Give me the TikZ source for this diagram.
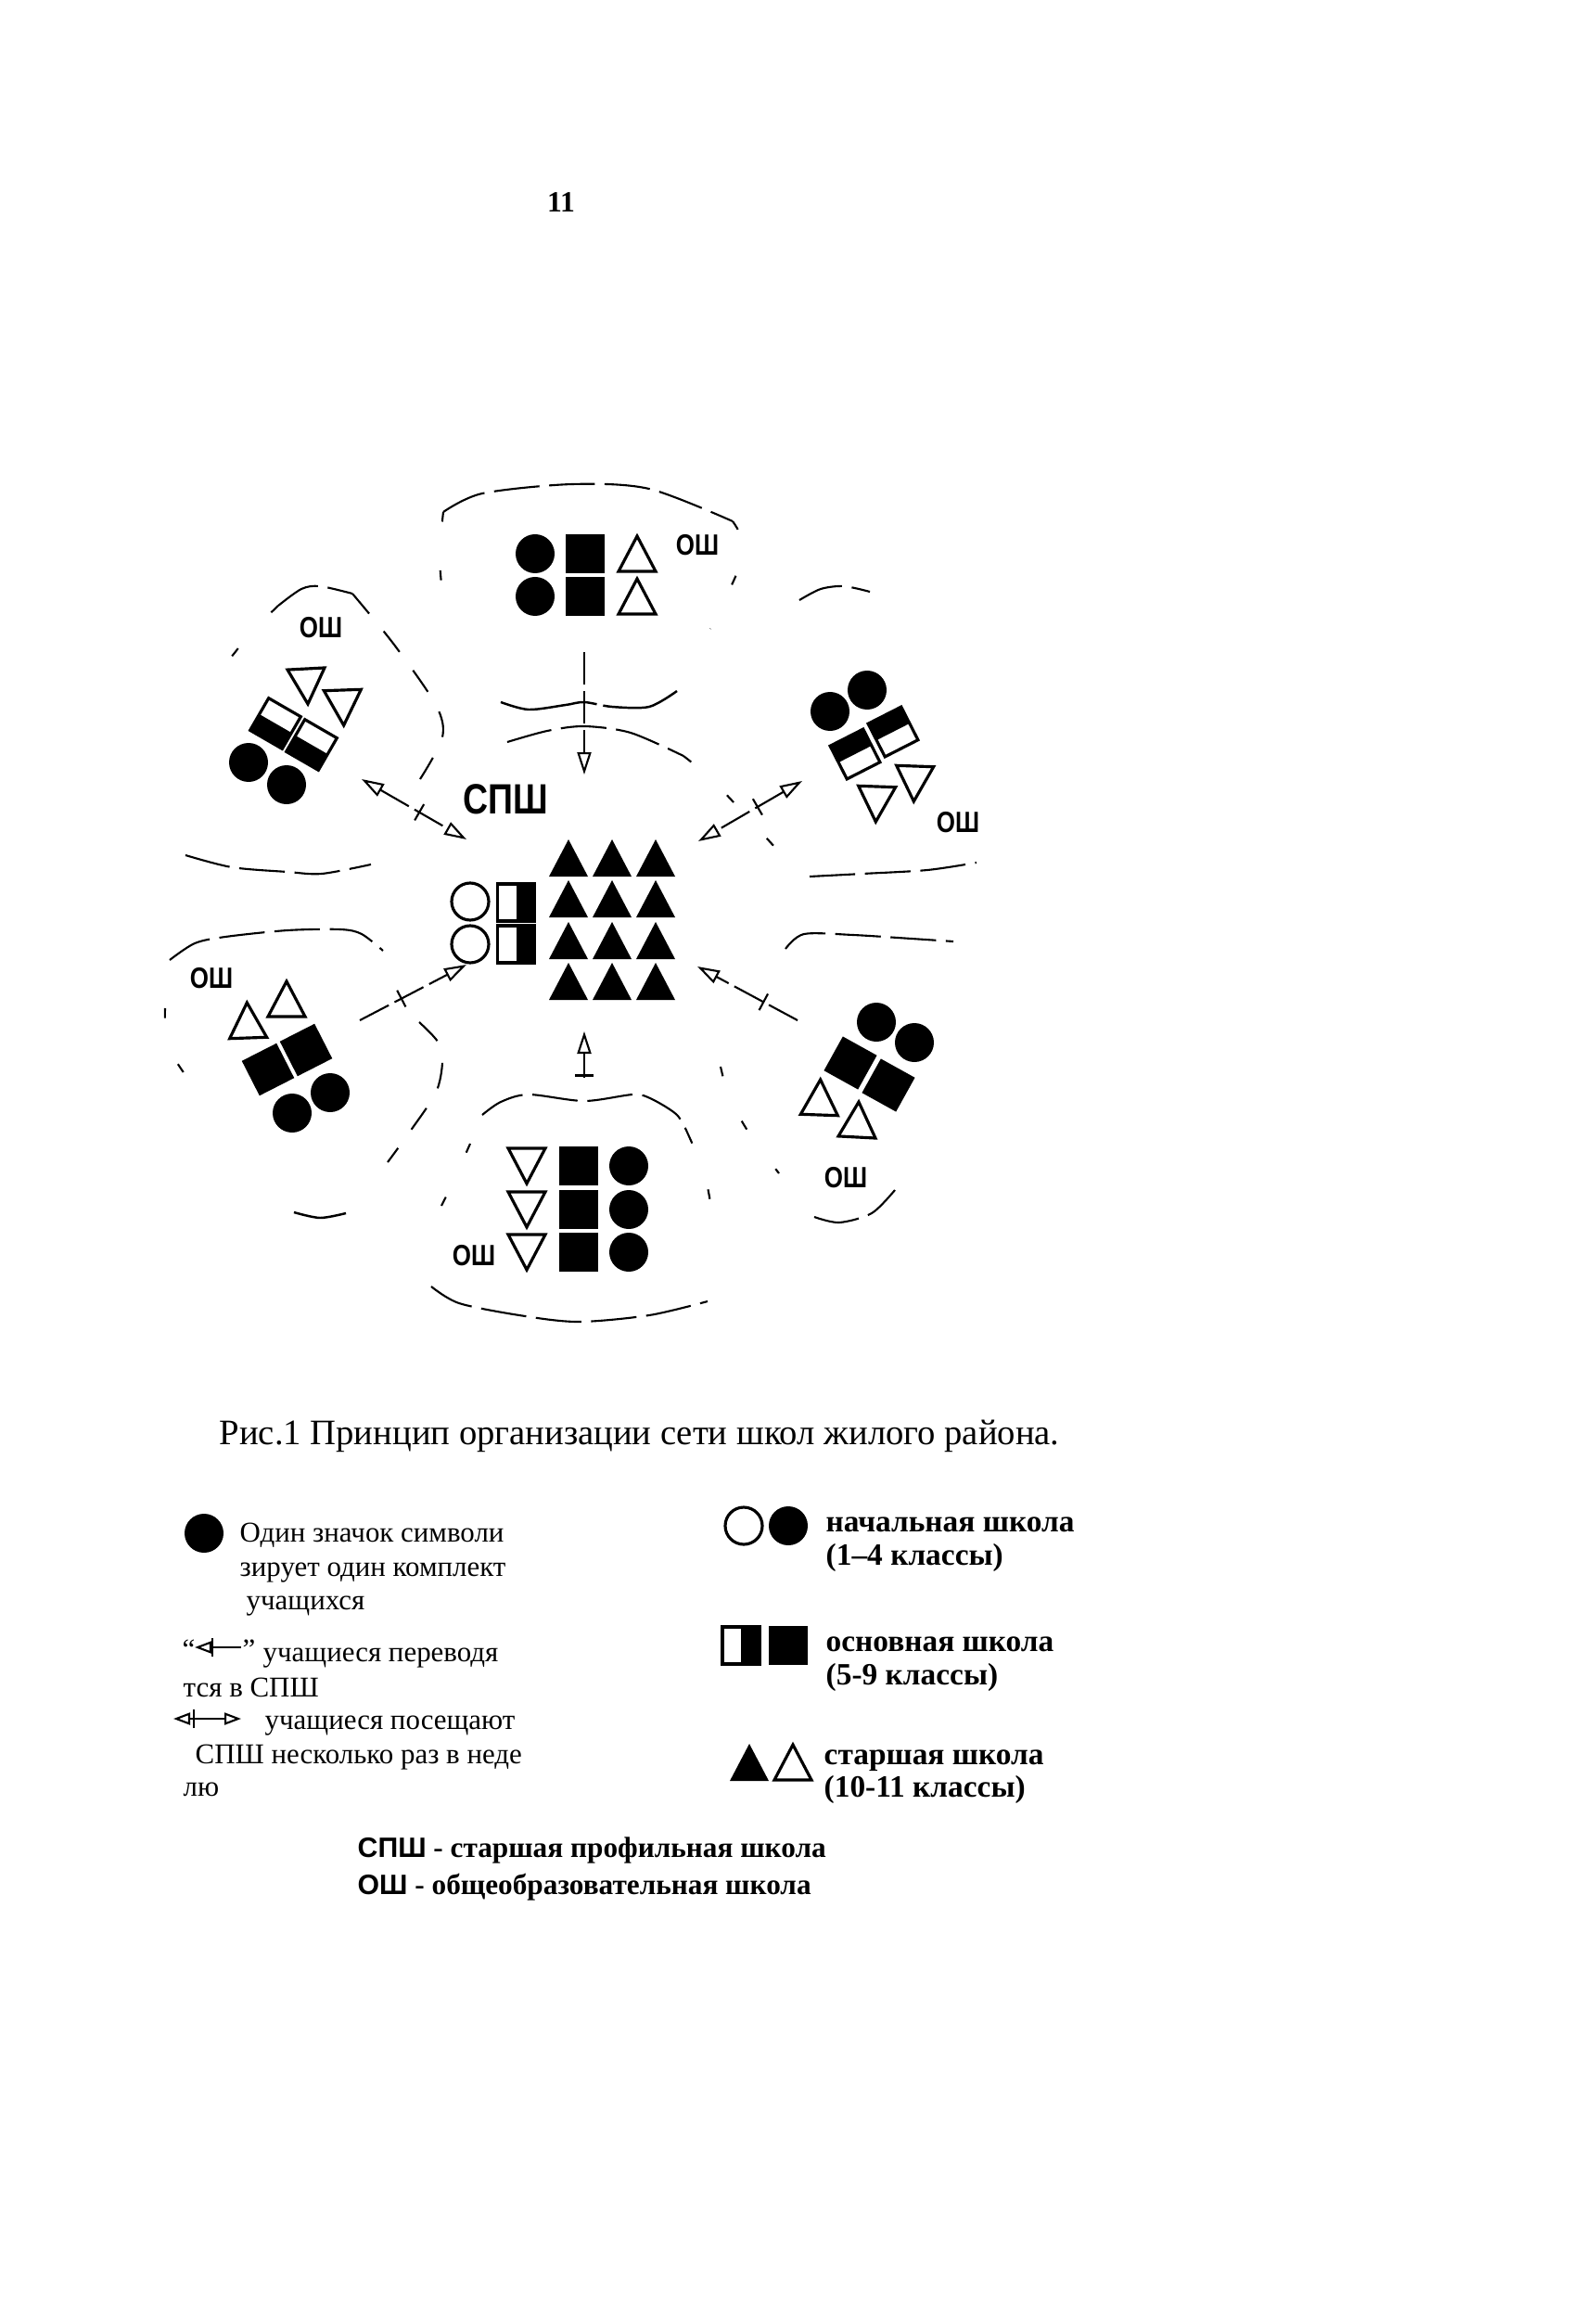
\documentclass[tikz,border=0pt]{standalone}
\usepackage{fontspec}
\setmainfont{Liberation Serif}
\setsansfont{Liberation Sans}
\newfontfamily\labfont{Liberation Sans}[FakeStretch=0.82]
\usetikzlibrary{arrows.meta,decorations.markings}

% school symbols
\tikzset{
  dotfull/.pic={\fill (0,0) circle (0.21);},
  dotopen/.pic={\draw[line width=0.9pt] (0,0) circle (0.2);},
  sqfull/.pic={\fill (-0.21,-0.21) rectangle (0.21,0.21);},
  sqhalf/.pic={\draw[line width=0.9pt] (-0.2,-0.2) rectangle (0.2,0.2);
               \fill (0,-0.2) rectangle (0.2,0.2);},
  trifull/.pic={\fill (-0.21,-0.2) -- (0.21,-0.2) -- (0,0.2) -- cycle;},
  triopen/.pic={\draw[line width=0.9pt,line join=miter]
               (-0.2,-0.19) -- (0.2,-0.19) -- (0,0.19) -- cycle;}
}

\begin{document}
\begin{tikzpicture}[
   bnd/.style={line width=0.6pt,dash pattern=on 14pt off 3pt},
   loose/.style={line width=0.6pt,dash pattern=on 8pt off 7pt},
   gap/.style={line width=0.6pt,dash pattern=on 3pt off 15pt},
   wave/.style={line width=0.7pt,dash pattern=on 30pt off 2pt},
   lnk/.style={line width=0.6pt,dash pattern=on 10pt off 2pt},
   oneway/.style={lnk,-{Triangle[open,length=2.4mm,width=1.5mm]}},
   twoway/.style={lnk,{Triangle[open,length=2.4mm,width=1.5mm]}-{Triangle[open,length=2.4mm,width=1.5mm]}},
   xmark/.style={postaction={decorate},decoration={markings,
      mark=at position #1 with {\draw[solid,-,line width=0.6pt] (0,-1mm) -- (0,1mm);}}},
   os/.style={inner sep=0pt,font=\labfont\bfseries\fontsize{9}{9}\selectfont},
   legtxt/.style={anchor=base west,inner sep=0pt,font=\fontsize{8.8}{10}\selectfont},
   keytxt/.style={anchor=base west,inner sep=0pt,font=\bfseries\fontsize{9.5}{11}\selectfont},
   deftxt/.style={anchor=base west,inner sep=0pt,font=\bfseries\fontsize{8.9}{11}\selectfont}]

  \fill[white] (0,0) rectangle (17.2,-24.98);
  \useasboundingbox (0,0) rectangle (17.2,-24.98);

  \node[inner sep=0pt,font=\bfseries\fontsize{9}{9}\selectfont] (pgno) at (6.05,-2.18) {11};

  % top school
  \pic at (5.77,-5.97) {dotfull};  \pic at (5.77,-6.43) {dotfull};
  \pic at (6.31,-5.97) {sqfull};   \pic at (6.31,-6.43) {sqfull};
  \pic at (6.87,-5.97) {triopen};  \pic at (6.87,-6.43) {triopen};
  \node[os] (os-t) at (7.52,-5.88) {ОШ};

  % profile school in the middle
  \foreach \x in {6.13,6.60,7.07}
    \foreach \y in {-9.25,-9.69,-10.14,-10.58}
      \pic at (\x,\y) {trifull};
  \pic at (5.07,-9.72) {dotopen};  \pic at (5.07,-10.18) {dotopen};
  \pic at (5.565,-9.73) {sqhalf};  \pic at (5.565,-10.18) {sqhalf};
  \node[os,font=\labfont\bfseries\fontsize{13}{13}\selectfont] (spsh) at (5.45,-8.62) {СПШ};

  % top left school
  \node[os] (os-tl) at (3.46,-6.77) {ОШ};
  \pic[rotate=183] at (3.31,-7.40) {triopen};
  \pic[rotate=182] at (3.70,-7.63) {triopen};
  \pic[rotate=240] at (2.97,-7.80) {sqhalf};  \pic[rotate=240] at (3.36,-8.03) {sqhalf};
  \pic at (2.68,-8.22) {dotfull};  \pic at (3.09,-8.46) {dotfull};

  % top right school
  \pic at (8.95,-7.67) {dotfull};  \pic at (9.35,-7.44) {dotfull};
  \pic[rotate=117] at (9.22,-8.13) {sqhalf};  \pic[rotate=117] at (9.63,-7.89) {sqhalf};
  \pic[rotate=178] at (9.45,-8.67) {triopen};
  \pic[rotate=178] at (9.86,-8.45) {triopen};
  \node[os] (os-tr) at (10.33,-8.87) {ОШ};

  % lower left school
  \node[os] (os-ll) at (2.28,-10.55) {ОШ};
  \pic[rotate=2] at (2.67,-11.00) {triopen};  \pic at (3.09,-10.77) {triopen};
  \pic[rotate=27] at (2.89,-11.53) {sqfull};  \pic[rotate=27] at (3.30,-11.32) {sqfull};
  \pic at (3.15,-12.00) {dotfull};  \pic at (3.56,-11.78) {dotfull};

  % lower right school
  \pic at (9.45,-11.02) {dotfull};  \pic at (9.86,-11.24) {dotfull};
  \pic[rotate=-29] at (9.17,-11.46) {sqfull};  \pic[rotate=-29] at (9.58,-11.70) {sqfull};
  \pic[rotate=-2] at (8.84,-11.83) {triopen};  \pic[rotate=-3] at (9.25,-12.07) {triopen};
  \node[os] (os-lr) at (9.12,-12.70) {ОШ};

  % bottom school
  \foreach \y in {-12.57,-13.04,-13.50} {
    \pic[rotate=180] at (5.68,\y) {triopen};
    \pic at (6.235,\y) {sqfull};
    \pic at (6.78,\y) {dotfull};
  }
  \node[os] (os-b) at (5.11,-13.54) {ОШ};

  % district borders
  \draw[bnd] plot[smooth] coordinates {(4.78,-5.52) (5.20,-5.32) (6.17,-5.22) (7.00,-5.27) (7.90,-5.62)};
  \draw[gap] plot[smooth] coordinates {(7.90,-5.62) (8.02,-5.98) (7.66,-6.78)};
  \draw[gap] plot[smooth] coordinates {(4.78,-5.52) (4.74,-6.00) (4.78,-6.50)};
  \draw[wave] plot[smooth] coordinates {(5.40,-7.57) (5.70,-7.65) (6.10,-7.60) (6.30,-7.57) (6.60,-7.62) (7.00,-7.62) (7.30,-7.45)};
  \draw[bnd] plot[smooth] coordinates {(5.47,-8.00) (5.90,-7.88) (6.30,-7.83) (6.80,-7.90) (7.37,-8.15)};
  \draw[gap] plot[smooth] coordinates {(7.37,-8.15) (7.75,-8.48) (8.57,-9.37)};
  \draw[bnd] plot[smooth] coordinates {(3.00,-6.53) (3.25,-6.35) (3.45,-6.32) (3.80,-6.40)};
  \draw[gap] plot[smooth] coordinates {(3.00,-6.53) (2.70,-6.83) (2.38,-7.23)};
  \draw[loose] plot[smooth] coordinates {(3.80,-6.40) (4.25,-6.95) (4.70,-7.60) (4.77,-7.95) (4.53,-8.40)};
  \draw[bnd] plot[smooth] coordinates {(2.00,-9.22) (2.50,-9.35) (3.10,-9.40) (3.47,-9.42) (4.00,-9.32)};
  \draw[bnd] plot[smooth] coordinates {(8.62,-6.47) (8.85,-6.35) (9.10,-6.32) (9.38,-6.38)};
  \draw[bnd] plot[smooth] coordinates {(8.73,-9.45) (9.30,-9.42) (10.00,-9.38) (10.53,-9.30)};
  \draw[bnd] plot[smooth] coordinates {(8.47,-10.23) (8.67,-10.07) (9.20,-10.08) (9.83,-10.12) (10.28,-10.15)};
  \draw[gap] plot[smooth] coordinates {(7.77,-11.50) (7.87,-11.85) (8.10,-12.25) (8.40,-12.65)};
  \draw[bnd] plot[smooth] coordinates {(8.78,-13.12) (9.05,-13.18) (9.40,-13.08) (9.65,-12.83)};
  \draw[bnd] plot[smooth] coordinates {(1.83,-10.35) (2.10,-10.17) (2.43,-10.10) (3.10,-10.03) (3.67,-10.02) (3.90,-10.07) (4.13,-10.25)};
  \draw[gap] plot[smooth] coordinates {(1.78,-10.87) (1.82,-11.30) (2.15,-11.80)};
  \draw[loose] plot[smooth] coordinates {(4.52,-11.02) (4.72,-11.23) (4.77,-11.45) (4.70,-11.78) (4.42,-12.20) (4.18,-12.53)};
  \draw[wave] plot[smooth] coordinates {(3.17,-13.07) (3.45,-13.13) (3.73,-13.08)};
  \draw[bnd] plot[smooth] coordinates {(5.20,-12.02) (5.40,-11.88) (5.70,-11.80) (6.30,-11.87) (6.83,-11.80) (7.03,-11.85) (7.30,-12.02) (7.42,-12.23)};
  \draw[gap] plot[smooth] coordinates {(5.07,-12.33) (4.85,-12.82) (4.67,-13.17)};
  \draw[bnd] plot[smooth] coordinates {(4.65,-13.87) (4.95,-14.05) (5.60,-14.18) (6.23,-14.25) (7.00,-14.18) (7.63,-14.03)};
  \draw[gap] plot[smooth] coordinates {(7.42,-12.23) (7.60,-12.67) (7.70,-13.20)};

  % pupils going to the profile school
  \coordinate (tl-a) at (3.90,-8.40);  \coordinate (c-tl) at (5.03,-9.05);
  \coordinate (tr-a) at (8.65,-8.42);  \coordinate (c-tr) at (7.53,-9.07);
  \coordinate (ll-a) at (3.88,-11.00); \coordinate (c-ll) at (5.03,-10.40);
  \coordinate (lr-a) at (8.60,-11.00); \coordinate (c-lr) at (7.52,-10.42);
  \coordinate (t-a) at (6.30,-7.03);   \coordinate (c-t) at (6.30,-8.35);
  \coordinate (b-a) at (6.30,-11.62);  \coordinate (c-b) at (6.30,-11.12);
  \draw[twoway,xmark=0.55] (tl-a) -- (c-tl);
  \draw[twoway,xmark=0.43] (tr-a) -- (c-tr);
  \draw[oneway,xmark=0.39] (ll-a) -- (c-ll);
  \draw[oneway,xmark=0.34] (lr-a) -- (c-lr);
  \draw[oneway] (t-a) -- (c-t);
  \draw[oneway,xmark=0.05] (b-a) -- (c-b);

  \node[anchor=base west,inner sep=0pt,font=\fontsize{11}{13}\selectfont] (cap) at (2.36,-15.57)
    {Рис.1 Принцип организации сети школ жилого района.};

  % legend, left column
  \pic at (2.20,-16.53) {dotfull};
  \node[legtxt] (leg1) at (2.58,-16.62) {Один значок символи};
  \node[legtxt] (leg2) at (2.58,-16.99) {зирует один комплект};
  \node[legtxt] (leg3) at (2.65,-17.35) {учащихся};
  \node[legtxt] (q-l) at (1.96,-17.88) {“};
  \coordinate (k1-a) at (2.10,-17.76); \coordinate (k1-b) at (2.60,-17.76);
  \draw[line width=0.6pt,-{Triangle[open,length=1.8mm,width=1.3mm]},xmark=0.62] (k1-b) -- (k1-a);
  \node[legtxt] (q-r) at (2.61,-17.88) {”};
  \node[legtxt] (leg4) at (2.83,-17.91) {учащиеся переводя};
  \node[legtxt] (leg5) at (1.97,-18.29) {тся в СПШ};
  \coordinate (k2-a) at (1.87,-18.53); \coordinate (k2-b) at (2.60,-18.53);
  \draw[line width=0.6pt,{Triangle[open,length=1.8mm,width=1.3mm]}-{Triangle[open,length=1.8mm,width=1.3mm]},xmark=0.3] (k2-a) -- (k2-b);
  \node[legtxt] (leg6) at (2.85,-18.64) {учащиеся посещают};
  \node[legtxt] (leg7) at (2.10,-19.01) {СПШ несколько раз в неде};
  \node[legtxt] (leg8) at (1.97,-19.36) {лю};

  % legend, right column
  \pic at (8.02,-16.45) {dotopen};  \pic at (8.50,-16.45) {dotfull};
  \node[keytxt] (key1) at (8.90,-16.51) {начальная школа};
  \node[keytxt] (key1b) at (8.90,-16.87) {(1–4 классы)};
  \pic at (7.99,-17.74) {sqhalf};  \pic at (8.50,-17.74) {sqfull};
  \node[keytxt] (key2) at (8.90,-17.80) {основная школа};
  \node[keytxt] (key2b) at (8.90,-18.16) {(5-9 классы)};
  \pic at (8.08,-19.00) {trifull};  \pic at (8.55,-19.00) {triopen};
  \node[keytxt] (key3) at (8.88,-19.02) {старшая школа};
  \node[keytxt] (key3b) at (8.88,-19.37) {(10-11 классы)};

  \node[deftxt] (def1) at (3.85,-20.02) {{\sffamily\fontsize{8.6}{11}\selectfont СПШ} - старшая профильная школа};
  \node[deftxt] (def2) at (3.85,-20.42) {{\sffamily\fontsize{8.6}{11}\selectfont ОШ} - общеобразовательная школа};
\end{tikzpicture}
\end{document}
